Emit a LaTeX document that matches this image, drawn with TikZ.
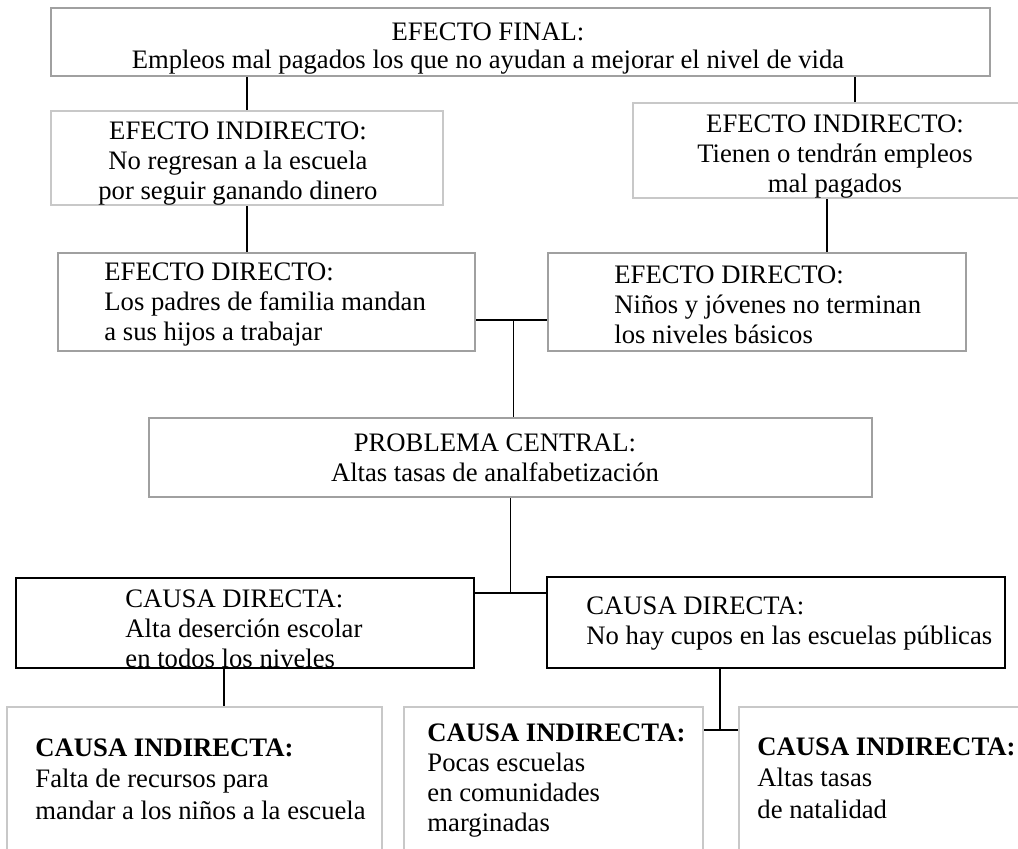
\documentclass[tikz,border=0pt]{standalone}
\usepackage{fontspec}
\setmainfont{Liberation Serif}
\usetikzlibrary{positioning, calc}
\newcommand{\pxu}{0.45pt}
\definecolor{lightline}{RGB}{200,200,200}
\definecolor{midline}{RGB}{160,160,160}

\begin{document}
\begin{tikzpicture}[
    x=0.45pt, y=-0.45pt,
    font=\fontsize{12}{13.5}\selectfont,
    box/.style={draw, rectangle, inner sep=0pt, line width=0.9pt},
    softbox/.style={box, draw=lightline},
    greybox/.style={box, draw=midline},
    darkbox/.style={box, draw=black, line width=1.1pt},
    txt/.style={align=center, inner sep=0pt},
    ltxt/.style={align=left, inner sep=0pt, anchor=west},
    link/.style={draw, line width=0.85pt}
]
    \useasboundingbox (0,0) rectangle (1018,849);
    \clip (0,0) rectangle (1018,849);

    % Effects
    \node[greybox, minimum width=939*\pxu, minimum height=68*\pxu] (fin) at (520.5,42) {};
    \node[softbox, minimum width=392*\pxu, minimum height=94*\pxu] (ind1) at (247,158) {};
    \node[softbox, minimum width=404*\pxu, minimum height=95*\pxu] (ind2) at (835,150.5) {};
    \node[greybox, minimum width=417*\pxu, minimum height=98*\pxu] (dir1) at (266.5,302) {};
    \node[greybox, minimum width=418*\pxu, minimum height=98*\pxu] (dir2) at (757,302) {};

    % Central problem
    \node[greybox, minimum width=723*\pxu, minimum height=79*\pxu] (prob) at (510.5,457.5) {};

    % Causes
    \node[darkbox, minimum width=458*\pxu, minimum height=90*\pxu] (cau1) at (245,623) {};
    \node[darkbox, minimum width=458*\pxu, minimum height=91*\pxu] (cau2) at (776,622.5) {};
    \node[softbox, minimum width=375*\pxu, minimum height=193*\pxu] (sub1) at (194.5,803.5) {};
    \node[softbox, minimum width=299*\pxu, minimum height=193*\pxu] (sub2) at (553.5,803.5) {};
    \node[softbox, minimum width=311*\pxu, minimum height=193*\pxu] (sub3) at (894.5,803.5) {};

    % Texts
    \node[txt, font=\fontsize{12}{12.6}\selectfont] (fin-t) at (488,49) {EFECTO FINAL:\\Empleos mal pagados los que no ayudan a mejorar el nivel de vida};
    \node[txt] (ind1-t) at (238,164) {EFECTO INDIRECTO:\\No regresan a la escuela\\por seguir ganando dinero};
    \node[txt] (ind2-t) at (835,157) {EFECTO INDIRECTO:\\Tienen o tendrán empleos\\mal pagados};
    \node[ltxt] (dir1-t) at (104,305) {EFECTO DIRECTO:\\Los padres de familia mandan\\a sus hijos a trabajar};
    \node[ltxt] (dir2-t) at (614,305) {EFECTO DIRECTO:\\Niños y jóvenes no terminan\\los niveles básicos};
    \node[txt] (prob-t) at (495,458) {PROBLEMA CENTRAL:\\Altas tasas de analfabetización};
    \node[ltxt] (cau1-t) at (125,629) {CAUSA DIRECTA:\\Alta deserción escolar\\en todos los niveles};
    \node[ltxt] (cau2-t) at (586,624) {CAUSA DIRECTA:\\No hay cupos en las escuelas públicas};
    \node[ltxt, font=\fontsize{12}{14.1}\selectfont] (sub1-t) at (35,779) {\textbf{CAUSA INDIRECTA:}\\Falta de recursos para\\mandar a los niños a la escuela};
    \node[ltxt] (sub2-t) at (427,781) {\textbf{CAUSA INDIRECTA:}\\Pocas escuelas\\en comunidades\\marginadas};
    \node[ltxt, font=\fontsize{12}{14.1}\selectfont] (sub3-t) at (757,778) {\textbf{CAUSA INDIRECTA:}\\Altas tasas\\de natalidad};

    % Connectors, effects side
    \draw[link] (ind1.north) -- (ind1.north |- fin.south);
    \coordinate (fr) at ($(ind2.north)+(20,0)$);
    \draw[link] (fr) -- (fr |- fin.south);
    \draw[link] (ind1.south) -- (ind1.south |- dir1.north);
    \coordinate (ir) at ($(ind2.south)+(-8,0)$);
    \draw[link] (ir) -- (ir |- dir2.north);
    \coordinate (jd) at ($(dir1.east)!0.5!(dir2.west)+(2,18)$);
    \draw[link] (dir1.east |- jd) -- (dir2.west |- jd);
    \draw[link] (jd) -- (jd |- prob.north);

    % Connectors, causes side
    \coordinate (jc) at ($(prob.south)+(0,95)$);
    \draw[link] (prob.south) -- (jc);
    \draw[link] (cau1.east |- jc) -- (cau2.west |- jc);
    \coordinate (cl) at ($(cau1.south)+(-21,0)$);
    \draw[link] (cl) -- (cl |- sub1.north);
    \coordinate (jb) at ($(cau2.south)+(-56,61)$);
    \draw[link] (cau2.south -| jb) -- (jb);
    \draw[link] (sub2.east |- jb) -- (sub3.west |- jb);
\end{tikzpicture}
\end{document}
